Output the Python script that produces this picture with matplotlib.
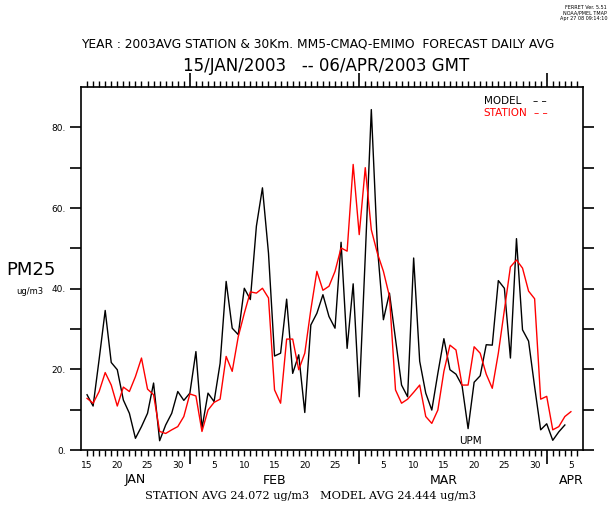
import pandas as pd
import matplotlib
matplotlib.use("Agg")
import matplotlib.pyplot as plt

# daily PM2.5 averages, first value is 15/JAN/2003
start_date = "2003-01-15"
model_pm25 = [
    13.7, 10.9, 22.5, 34.6, 21.7, 19.9, 12.4, 9.1, 2.9, 5.8,
    9.1, 16.6, 2.3, 6.2, 9.1, 14.5, 12.3, 14.1, 24.4, 5.4,
    14.1, 12.0, 21.5, 41.8, 30.2, 28.6, 40.1, 37.3, 55.5, 65.0,
    48.8, 23.3, 24.0, 37.4, 19.0, 23.6, 9.3, 31.0, 33.9, 38.5,
    33.1, 30.2, 51.5, 25.2, 41.2, 13.2, 48.0, 84.4, 50.5, 32.3,
    38.9, 27.5, 16.1, 13.2, 47.6, 22.0, 14.1, 9.9, 19.0, 27.6,
    19.9, 18.8, 16.0, 5.3, 16.8, 18.4, 26.1, 26.0, 42.0, 40.1,
    22.8, 52.4, 29.8, 27.0, 15.7, 5.0, 6.5, 2.4, 4.5, 6.2,
]
station_pm25 = [
    12.8, 11.6, 14.5, 19.2, 16.1, 10.9, 15.6, 14.5, 18.2, 22.8,
    15.1, 13.7, 4.6, 4.1, 5.0, 5.8, 8.3, 13.9, 13.4, 4.6,
    9.9, 11.8, 12.6, 23.2, 19.5, 28.1, 33.9, 39.2, 38.9, 40.1,
    37.7, 14.9, 11.6, 27.5, 27.5, 19.9, 24.0, 34.8, 44.3, 39.6,
    40.6, 44.3, 50.1, 49.3, 70.8, 53.4, 70.0, 54.6, 48.8, 44.3,
    38.1, 14.9, 11.6, 12.6, 14.3, 16.1, 8.3, 6.6, 9.9, 19.5,
    26.0, 24.8, 16.1, 16.1, 25.6, 24.0, 18.8, 15.3, 24.0, 34.7,
    45.4, 47.1, 45.1, 39.4, 37.5, 12.6, 13.3, 5.0, 5.8, 8.3,
    9.5,
]

day_label_dates = ["2003-01-15", "2003-01-20", "2003-01-25", "2003-01-30",
                   "2003-02-05", "2003-02-10", "2003-02-15", "2003-02-20", "2003-02-25",
                   "2003-03-05", "2003-03-10", "2003-03-15", "2003-03-20", "2003-03-25",
                   "2003-03-30", "2003-04-05"]
month_names = ["JAN", "FEB", "MAR", "APR"]
month_label_dates = ["2003-01-23", "2003-02-15", "2003-03-15", "2003-04-05"]
month_starts = ["2003-02-01", "2003-03-01", "2003-04-01"]
y_ticks = [0, 10, 20, 30, 40, 50, 60, 70, 80]
y_labels = ["0.", "", "20.", "", "40.", "", "60.", "", "80."]

W, H = 610, 509
fig = plt.figure(figsize=(W / 100, H / 100), dpi=100)
ax = fig.add_axes([81 / W, 1 - 450 / H, (583 - 81) / W, (450 - 87) / H])


def doy(s):
    return pd.Timestamp(s).dayofyear


x_model = [doy(d) for d in pd.date_range(start_date, periods=len(model_pm25))]
x_station = [doy(d) for d in pd.date_range(start_date, periods=len(station_pm25))]

ax.plot(x_model, model_pm25, color="black", lw=1.0)
ax.plot(x_station, station_pm25, color="red", lw=1.0)

ax.set_xlim(14, 97)
ax.set_ylim(0, 90)

for s in ax.spines.values():
    s.set_linewidth(1.2)

# time axis: daily minor ticks, longer ticks at month boundaries
ax.set_xticks([doy(d) for d in month_starts])
ax.set_xticklabels([])
ax.set_xticks(range(15, 97), minor=True)
ax.tick_params(axis="x", which="major", length=10, width=1.2, direction="out", top=True)
ax.tick_params(axis="x", which="minor", length=4, width=1.0, direction="out", top=True)

ax.set_yticks(y_ticks)
ax.set_yticklabels(y_labels)
ax.tick_params(axis="y", length=8, width=1.2, direction="out", right=True,
               labelsize=6.5, pad=3)

tr = ax.get_xaxis_transform()
for d in day_label_dates:
    lab = str(pd.Timestamp(d).day)
    ax.text(doy(d), -15 / 363, lab, transform=tr, ha="center", va="center", fontsize=6.5)
for name, d in zip(month_names, month_label_dates):
    ax.text(doy(d), -30 / 363, name, transform=tr, ha="center", va="center", fontsize=9)

# legend drawn as text, like the original
fig.text(484 / W, 1 - 101 / H, "MODEL", color="black", fontsize=7.5, va="center")
fig.text(533 / W, 1 - 101 / H, "– –", color="black", fontsize=7.5, va="center")
fig.text(483 / W, 1 - 113 / H, "STATION", color="red", fontsize=7.5, va="center")
fig.text(534 / W, 1 - 113 / H, "– –", color="red", fontsize=7.5, va="center")

fig.text(470 / W, 1 - 441 / H, "UPM", fontsize=7.5, ha="center", va="center")

fig.text(318 / W, 1 - 44 / H,
         "YEAR : 2003AVG STATION & 30Km. MM5-CMAQ-EMIMO  FORECAST DAILY AVG",
         fontsize=8.8, ha="center", va="center")
fig.text(326 / W, 1 - 66 / H, "15/JAN/2003   -- 06/APR/2003 GMT",
         fontsize=12, ha="center", va="center")

fig.text(6 / W, 1 - 270 / H, "PM25", fontsize=13, va="center")
fig.text(16 / W, 1 - 291 / H, "ug/m3", fontsize=6, va="center")

fig.text(311 / W, 1 - 496 / H, "STATION AVG 24.072 ug/m3   MODEL AVG 24.444 ug/m3",
         fontsize=8.1, ha="center", va="center", family="DejaVu Serif")

fig.text(607 / W, 1 - 13 / H, "FERRET Ver. 5.51\nNOAA/PMEL TMAP\nApr 27 08 09:14:10",
         fontsize=3.5, ha="right", va="center", linespacing=1.1)

fig.savefig("out.png", dpi=100)
